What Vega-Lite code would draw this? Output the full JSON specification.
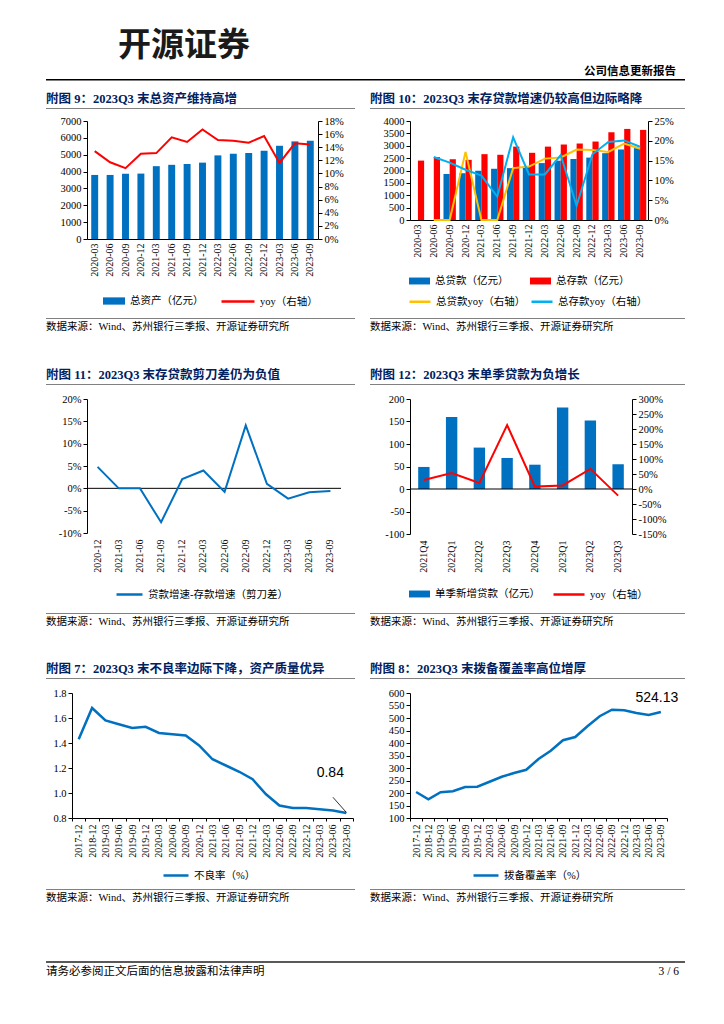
{
"$schema": "https://vega.github.io/schema/vega-lite/v6.json",
"padding": {"left": 46, "top": 0, "right": 10, "bottom": 10},
"background": "white",
"columns": 5,
"align": "each",
"bounds": "flush",
"spacing": 0,
"resolve": {"scale": {"x": "independent", "y": "independent", "fill": "independent", "stroke": "independent", "xOffset": "independent"}, "legend": {"fill": "independent", "stroke": "independent"}, "axis": {"x": "independent", "y": "independent"}},
"config": {
  "view": {"stroke": null},
  "font": "Liberation Serif, Noto Sans CJK SC",
  "axis": {"labelFont": "Liberation Serif, Noto Sans CJK SC", "labelFontSize": 10.5, "labelColor": "#000", "domainColor": "#000", "tickColor": "#000", "grid": false, "tickSize": 4, "labelPadding": 2, "domainWidth": 1, "labelOverlap": false},
  "legend": {"labelFont": "Liberation Serif, Noto Sans CJK SC", "labelFontSize": 10.5, "labelColor": "#000", "padding": 0, "labelOffset": 4, "orient": "none"},
  "title": {"font": "Liberation Serif, Noto Sans CJK SC", "fontSize": 12.5, "fontWeight": "bold", "color": "#002060", "anchor": "start", "offset": 3}
},
"datasets": {
  "assets": [
    {"date": "2020-03", "assets": 3800, "yoy": 0.134},
    {"date": "2020-06", "assets": 3800, "yoy": 0.117},
    {"date": "2020-09", "assets": 3870, "yoy": 0.108},
    {"date": "2020-12", "assets": 3880, "yoy": 0.130},
    {"date": "2021-03", "assets": 4320, "yoy": 0.131},
    {"date": "2021-06", "assets": 4400, "yoy": 0.155},
    {"date": "2021-09", "assets": 4450, "yoy": 0.148},
    {"date": "2021-12", "assets": 4530, "yoy": 0.167},
    {"date": "2022-03", "assets": 4960, "yoy": 0.151},
    {"date": "2022-06", "assets": 5050, "yoy": 0.150},
    {"date": "2022-09", "assets": 5100, "yoy": 0.147},
    {"date": "2022-12", "assets": 5230, "yoy": 0.157},
    {"date": "2023-03", "assets": 5530, "yoy": 0.116},
    {"date": "2023-06", "assets": 5790, "yoy": 0.146},
    {"date": "2023-09", "assets": 5830, "yoy": 0.144}
  ],
  "c2bars": [
    {"date": "2020-03", "series": "总存款（亿元）", "value": 2400},
    {"date": "2020-06", "series": "总存款（亿元）", "value": 2540},
    {"date": "2020-09", "series": "总贷款（亿元）", "value": 1860},
    {"date": "2020-09", "series": "总存款（亿元）", "value": 2455},
    {"date": "2020-12", "series": "总贷款（亿元）", "value": 1890},
    {"date": "2020-12", "series": "总存款（亿元）", "value": 2430},
    {"date": "2021-03", "series": "总贷款（亿元）", "value": 1990},
    {"date": "2021-03", "series": "总存款（亿元）", "value": 2660},
    {"date": "2021-06", "series": "总贷款（亿元）", "value": 2070},
    {"date": "2021-06", "series": "总存款（亿元）", "value": 2635},
    {"date": "2021-09", "series": "总贷款（亿元）", "value": 2095},
    {"date": "2021-09", "series": "总存款（亿元）", "value": 2965},
    {"date": "2021-12", "series": "总贷款（亿元）", "value": 2140},
    {"date": "2021-12", "series": "总存款（亿元）", "value": 2715},
    {"date": "2022-03", "series": "总贷款（亿元）", "value": 2300},
    {"date": "2022-03", "series": "总存款（亿元）", "value": 2965},
    {"date": "2022-06", "series": "总贷款（亿元）", "value": 2395},
    {"date": "2022-06", "series": "总存款（亿元）", "value": 3050},
    {"date": "2022-09", "series": "总贷款（亿元）", "value": 2465},
    {"date": "2022-09", "series": "总存款（亿元）", "value": 3090},
    {"date": "2022-12", "series": "总贷款（亿元）", "value": 2520},
    {"date": "2022-12", "series": "总存款（亿元）", "value": 3170},
    {"date": "2023-03", "series": "总贷款（亿元）", "value": 2700},
    {"date": "2023-03", "series": "总存款（亿元）", "value": 3545},
    {"date": "2023-06", "series": "总贷款（亿元）", "value": 2850},
    {"date": "2023-06", "series": "总存款（亿元）", "value": 3680},
    {"date": "2023-09", "series": "总贷款（亿元）", "value": 2905},
    {"date": "2023-09", "series": "总存款（亿元）", "value": 3640}
  ],
  "c2lines": [
    {"date": "2020-06", "series": "总贷款yoy（右轴）", "value": 0},
    {"date": "2020-09", "series": "总贷款yoy（右轴）", "value": 0},
    {"date": "2020-12", "series": "总贷款yoy（右轴）", "value": 0.172},
    {"date": "2021-03", "series": "总贷款yoy（右轴）", "value": 0},
    {"date": "2021-06", "series": "总贷款yoy（右轴）", "value": 0},
    {"date": "2021-09", "series": "总贷款yoy（右轴）", "value": 0.131},
    {"date": "2021-12", "series": "总贷款yoy（右轴）", "value": 0.135},
    {"date": "2022-03", "series": "总贷款yoy（右轴）", "value": 0.155},
    {"date": "2022-06", "series": "总贷款yoy（右轴）", "value": 0.158},
    {"date": "2022-09", "series": "总贷款yoy（右轴）", "value": 0.178},
    {"date": "2022-12", "series": "总贷款yoy（右轴）", "value": 0.177},
    {"date": "2023-03", "series": "总贷款yoy（右轴）", "value": 0.172},
    {"date": "2023-06", "series": "总贷款yoy（右轴）", "value": 0.193},
    {"date": "2023-09", "series": "总贷款yoy（右轴）", "value": 0.180},
    {"date": "2020-06", "series": "总存款yoy（右轴）", "value": 0.159},
    {"date": "2020-09", "series": "总存款yoy（右轴）", "value": 0.145},
    {"date": "2020-12", "series": "总存款yoy（右轴）", "value": 0.127},
    {"date": "2021-03", "series": "总存款yoy（右轴）", "value": 0.112},
    {"date": "2021-06", "series": "总存款yoy（右轴）", "value": 0.059},
    {"date": "2021-09", "series": "总存款yoy（右轴）", "value": 0.209},
    {"date": "2021-12", "series": "总存款yoy（右轴）", "value": 0.115},
    {"date": "2022-03", "series": "总存款yoy（右轴）", "value": 0.115},
    {"date": "2022-06", "series": "总存款yoy（右轴）", "value": 0.164},
    {"date": "2022-09", "series": "总存款yoy（右轴）", "value": 0.036},
    {"date": "2022-12", "series": "总存款yoy（右轴）", "value": 0.166},
    {"date": "2023-03", "series": "总存款yoy（右轴）", "value": 0.197},
    {"date": "2023-06", "series": "总存款yoy（右轴）", "value": 0.201},
    {"date": "2023-09", "series": "总存款yoy（右轴）", "value": 0.185}
  ],
  "scissors": [
    {"date": "2020-12", "v": 0.048},
    {"date": "2021-03", "v": 0.0},
    {"date": "2021-06", "v": 0.0},
    {"date": "2021-09", "v": -0.076},
    {"date": "2021-12", "v": 0.021},
    {"date": "2022-03", "v": 0.040},
    {"date": "2022-06", "v": -0.008},
    {"date": "2022-09", "v": 0.141},
    {"date": "2022-12", "v": 0.010},
    {"date": "2023-03", "v": -0.023},
    {"date": "2023-06", "v": -0.009},
    {"date": "2023-09", "v": -0.006}
  ],
  "newloans": [
    {"q": "2021Q4", "amt": 49, "yoy": 0.30},
    {"q": "2022Q1", "amt": 160, "yoy": 0.53},
    {"q": "2022Q2", "amt": 92, "yoy": 0.20},
    {"q": "2022Q3", "amt": 69, "yoy": 2.13},
    {"q": "2022Q4", "amt": 54, "yoy": 0.08},
    {"q": "2023Q1", "amt": 181, "yoy": 0.12},
    {"q": "2023Q2", "amt": 152, "yoy": 0.67},
    {"q": "2023Q3", "amt": 55, "yoy": -0.22}
  ],
  "quality": [
    {"date": "2017-12", "npl": 1.43, "cov": 204},
    {"date": "2018-12", "npl": 1.68, "cov": 175},
    {"date": "2019-03", "npl": 1.58, "cov": 203},
    {"date": "2019-06", "npl": 1.55, "cov": 207},
    {"date": "2019-09", "npl": 1.52, "cov": 224},
    {"date": "2019-12", "npl": 1.53, "cov": 225},
    {"date": "2020-03", "npl": 1.48, "cov": 245},
    {"date": "2020-06", "npl": 1.47, "cov": 265},
    {"date": "2020-09", "npl": 1.46, "cov": 280},
    {"date": "2020-12", "npl": 1.38, "cov": 293},
    {"date": "2021-03", "npl": 1.27, "cov": 336},
    {"date": "2021-06", "npl": 1.22, "cov": 369},
    {"date": "2021-09", "npl": 1.17, "cov": 411},
    {"date": "2021-12", "npl": 1.11, "cov": 424},
    {"date": "2022-03", "npl": 0.99, "cov": 467},
    {"date": "2022-06", "npl": 0.90, "cov": 507},
    {"date": "2022-09", "npl": 0.88, "cov": 533},
    {"date": "2022-12", "npl": 0.88, "cov": 531},
    {"date": "2023-03", "npl": 0.87, "cov": 520},
    {"date": "2023-06", "npl": 0.86, "cov": 512},
    {"date": "2023-09", "npl": 0.84, "cov": 524.13}
  ],
  "lastpoint": [
    {"date": "2023-09", "npl": 0.84, "cov": 524.13, "nplLabel": "0.84", "covLabel": "524.13"}
  ]
},
"concat": [
  {"width": 1, "height": 79, "data": {"values": []}, "mark": "point"},
  {"width": 1, "height": 1, "data": {"values": []}, "mark": "point"},
  {"width": 1, "height": 1, "data": {"values": []}, "mark": "point"},
  {"width": 1, "height": 1, "data": {"values": []}, "mark": "point"},
  {"width": 1, "height": 1, "data": {"values": []}, "mark": "point"},

  {"width": 41, "height": 1.5, "view": {"fill": "#000", "stroke": null}, "data": {"values": []}, "mark": "point",
   "title": {"text": "开源证券", "anchor": "start", "dx": 72, "font": "Noto Sans CJK SC", "fontSize": 33, "fontWeight": "bold", "color": "#1a1a1a", "offset": 16}},
  {"width": 268, "height": 1.5, "view": {"fill": "#000", "stroke": null}, "data": {"values": []}, "mark": "point"},
  {"width": 15, "height": 1.5, "view": {"fill": "#000", "stroke": null}, "data": {"values": []}, "mark": "point"},
  {"width": 40, "height": 1.5, "view": {"fill": "#000", "stroke": null}, "data": {"values": []}, "mark": "point"},
  {"width": 275, "height": 1.5, "view": {"fill": "#000", "stroke": null}, "data": {"values": []}, "mark": "point",
   "title": {"text": "公司信息更新报告", "anchor": "end", "dx": -9, "fontSize": 11.5, "fontWeight": "bold", "color": "#000", "offset": 2}},

  {"width": 1, "height": 27, "data": {"values": []}, "mark": "point"},
  {"width": 1, "height": 1, "data": {"values": []}, "mark": "point"},
  {"width": 1, "height": 1, "data": {"values": []}, "mark": "point"},
  {"width": 1, "height": 1, "data": {"values": []}, "mark": "point"},
  {"width": 1, "height": 1, "data": {"values": []}, "mark": "point"},

  {"width": 41, "height": 1, "view": {"fill": "#808080", "stroke": null}, "data": {"values": []}, "mark": "point", "title": {"text": "附图 9：2023Q3 末总资产维持高增"}},
  {"width": 268, "height": 1, "view": {"fill": "#808080", "stroke": null}, "data": {"values": []}, "mark": "point"},
  {"width": 15, "height": 1, "data": {"values": []}, "mark": "point"},
  {"width": 40, "height": 1, "view": {"fill": "#808080", "stroke": null}, "data": {"values": []}, "mark": "point", "title": {"text": "附图 10：2023Q3 末存贷款增速仍较高但边际略降"}},
  {"width": 275, "height": 1, "view": {"fill": "#808080", "stroke": null}, "data": {"values": []}, "mark": "point"},

  {"width": 1, "height": 12, "data": {"values": []}, "mark": "point"},
  {"width": 1, "height": 1, "data": {"values": []}, "mark": "point"},
  {"width": 1, "height": 1, "data": {"values": []}, "mark": "point"},
  {"width": 1, "height": 1, "data": {"values": []}, "mark": "point"},
  {"width": 1, "height": 1, "data": {"values": []}, "mark": "point"},

  {"width": 41, "height": 1, "data": {"values": []}, "mark": "point"},
  {"width": 231, "height": 118,
   "data": {"name": "assets"},
   "encoding": {"x": {"field": "date", "type": "nominal", "title": null, "scale": {"paddingInner": 0.55, "paddingOuter": 0.275}, "axis": {"labelAngle": 270, "ticks": false, "labelPadding": 4, "labelFontSize": 10}}},
   "layer": [
     {"mark": {"type": "bar"},
      "encoding": {
        "y": {"field": "assets", "type": "quantitative", "title": null, "scale": {"domain": [0, 7000]}, "axis": {"values": [0, 1000, 2000, 3000, 4000, 5000, 6000, 7000], "format": "d"}},
        "fill": {"datum": "总资产（亿元）", "type": "nominal", "scale": {"range": ["#0070C0"]}, "legend": {"title": null, "legendX": 15, "legendY": 168, "symbolType": "M-1,-0.33H1V0.33H-1Z", "symbolSize": 484}}
      }},
     {"mark": {"type": "line", "strokeWidth": 2},
      "encoding": {
        "y": {"field": "yoy", "type": "quantitative", "title": null, "scale": {"domain": [0, 0.18]}, "axis": {"orient": "right", "format": ".0%", "values": [0, 0.02, 0.04, 0.06, 0.08, 0.1, 0.12, 0.14, 0.16, 0.18]}},
        "stroke": {"datum": "yoy（右轴）", "type": "nominal", "scale": {"range": ["#FF0000"]}, "legend": {"title": null, "legendX": 133, "legendY": 162.5, "symbolType": "stroke", "symbolSize": 1089, "symbolStrokeWidth": 2.5}}
      }}
   ],
   "resolve": {"scale": {"y": "independent"}}},
  {"width": 15, "height": 1, "data": {"values": []}, "mark": "point"},
  {"width": 40, "height": 1, "data": {"values": []}, "mark": "point"},
  {"width": 238, "height": 99,
   "encoding": {"x": {"field": "date", "type": "nominal", "title": null, "scale": {"paddingInner": 0.22, "paddingOuter": 0.11}, "axis": {"labelAngle": 270, "ticks": false, "labelPadding": 4, "labelFontSize": 10}}},
   "layer": [
     {"data": {"name": "c2bars"}, "mark": {"type": "bar"},
      "encoding": {
        "xOffset": {"field": "series", "type": "nominal", "scale": {"domain": ["总贷款（亿元）", "总存款（亿元）"], "paddingInner": 0}},
        "y": {"field": "value", "type": "quantitative", "title": null, "scale": {"domain": [0, 4000]}, "axis": {"values": [0, 500, 1000, 1500, 2000, 2500, 3000, 3500, 4000], "format": "d"}},
        "fill": {"field": "series", "type": "nominal", "scale": {"domain": ["总贷款（亿元）", "总存款（亿元）"], "range": ["#0070C0", "#FF0000"]}, "legend": {"title": null, "legendX": -2, "legendY": 148.5, "direction": "horizontal", "columns": 2, "columnPadding": 20, "symbolType": "M-1,-0.33H1V0.33H-1Z", "symbolSize": 441}}
      }},
     {"data": {"name": "c2lines"}, "mark": {"type": "line", "strokeWidth": 2},
      "encoding": {
        "y": {"field": "value", "type": "quantitative", "title": null, "scale": {"domain": [0, 0.25]}, "axis": {"orient": "right", "format": ".0%", "values": [0, 0.05, 0.1, 0.15, 0.2, 0.25]}},
        "stroke": {"field": "series", "type": "nominal", "scale": {"domain": ["总贷款yoy（右轴）", "总存款yoy（右轴）"], "range": ["#FFC000", "#00B0F0"]}, "legend": {"title": null, "legendX": -2, "legendY": 168.5, "direction": "horizontal", "columns": 2, "columnPadding": 0, "symbolType": "stroke", "symbolSize": 441, "symbolStrokeWidth": 2.5}}
      }}
   ],
   "resolve": {"scale": {"y": "independent"}}},

  {"width": 1, "height": 79, "data": {"values": []}, "mark": "point"},
  {"width": 1, "height": 1, "data": {"values": []}, "mark": "point"},
  {"width": 1, "height": 1, "data": {"values": []}, "mark": "point"},
  {"width": 1, "height": 1, "data": {"values": []}, "mark": "point"},
  {"width": 1, "height": 1, "data": {"values": []}, "mark": "point"},

  {"width": 41, "height": 1, "view": {"fill": "#808080", "stroke": null}, "data": {"values": []}, "mark": "point", "title": {"text": "数据来源：Wind、苏州银行三季报、开源证券研究所", "orient": "bottom", "anchor": "start", "fontSize": 10.5, "fontWeight": "normal", "color": "#000", "offset": 3}},
  {"width": 268, "height": 1, "view": {"fill": "#808080", "stroke": null}, "data": {"values": []}, "mark": "point"},
  {"width": 15, "height": 1, "data": {"values": []}, "mark": "point"},
  {"width": 40, "height": 1, "view": {"fill": "#808080", "stroke": null}, "data": {"values": []}, "mark": "point", "title": {"text": "数据来源：Wind、苏州银行三季报、开源证券研究所", "orient": "bottom", "anchor": "start", "fontSize": 10.5, "fontWeight": "normal", "color": "#000", "offset": 3}},
  {"width": 275, "height": 1, "view": {"fill": "#808080", "stroke": null}, "data": {"values": []}, "mark": "point"},

  {"width": 1, "height": 65, "data": {"values": []}, "mark": "point"},
  {"width": 1, "height": 1, "data": {"values": []}, "mark": "point"},
  {"width": 1, "height": 1, "data": {"values": []}, "mark": "point"},
  {"width": 1, "height": 1, "data": {"values": []}, "mark": "point"},
  {"width": 1, "height": 1, "data": {"values": []}, "mark": "point"},

  {"width": 41, "height": 1, "view": {"fill": "#808080", "stroke": null}, "data": {"values": []}, "mark": "point", "title": {"text": "附图 11：2023Q3 末存贷款剪刀差仍为负值"}},
  {"width": 268, "height": 1, "view": {"fill": "#808080", "stroke": null}, "data": {"values": []}, "mark": "point"},
  {"width": 15, "height": 1, "data": {"values": []}, "mark": "point"},
  {"width": 40, "height": 1, "view": {"fill": "#808080", "stroke": null}, "data": {"values": []}, "mark": "point", "title": {"text": "附图 12：2023Q3 末单季贷款为负增长"}},
  {"width": 275, "height": 1, "view": {"fill": "#808080", "stroke": null}, "data": {"values": []}, "mark": "point"},

  {"width": 1, "height": 14, "data": {"values": []}, "mark": "point"},
  {"width": 1, "height": 1, "data": {"values": []}, "mark": "point"},
  {"width": 1, "height": 1, "data": {"values": []}, "mark": "point"},
  {"width": 1, "height": 1, "data": {"values": []}, "mark": "point"},
  {"width": 1, "height": 1, "data": {"values": []}, "mark": "point"},

  {"width": 41, "height": 1, "data": {"values": []}, "mark": "point"},
  {"width": 254, "height": 134,
   "layer": [
     {"data": {"values": [{}]}, "mark": {"type": "rule", "color": "#000", "strokeWidth": 1},
      "encoding": {"y": {"datum": 0, "type": "quantitative", "title": null, "scale": {"domain": [-0.1, 0.2]}, "axis": {"format": ".0%", "values": [-0.1, -0.05, 0, 0.05, 0.1, 0.15, 0.2], "labelExpr": "replace(datum.label, '−', '-')"}}}},
     {"data": {"name": "scissors"}, "mark": {"type": "line", "strokeWidth": 2},
      "encoding": {
        "x": {"field": "date", "type": "nominal", "title": null, "scale": {"type": "band", "paddingInner": 0, "paddingOuter": 0}, "axis": {"labelAngle": 270, "ticks": false, "domain": false, "labelPadding": 6, "labelFontSize": 10}},
        "y": {"field": "v", "type": "quantitative", "title": null, "scale": {"domain": [-0.1, 0.2]}, "axis": {"format": ".0%", "values": [-0.1, -0.05, 0, 0.05, 0.1, 0.15, 0.2], "labelExpr": "replace(datum.label, '−', '-')"}},
        "stroke": {"datum": "贷款增速-存款增速（剪刀差）", "type": "nominal", "scale": {"range": ["#0070C0"]}, "legend": {"title": null, "legendX": 28, "legendY": 181, "symbolType": "stroke", "symbolSize": 676, "symbolStrokeWidth": 2.5}}
      }}
   ]},
  {"width": 15, "height": 1, "data": {"values": []}, "mark": "point"},
  {"width": 40, "height": 1, "data": {"values": []}, "mark": "point"},
  {"width": 222, "height": 135,
   "data": {"name": "newloans"},
   "layer": [
     {"mark": {"type": "bar"},
      "encoding": {
        "x": {"field": "q", "type": "nominal", "title": null, "scale": {"paddingInner": 0.59, "paddingOuter": 0.295}, "axis": {"labelAngle": 270, "ticks": false, "domain": false, "labelPadding": 6, "labelFontSize": 10}},
        "y": {"field": "amt", "type": "quantitative", "title": null, "scale": {"domain": [-100, 200]}, "axis": {"values": [-100, -50, 0, 50, 100, 150, 200], "labelExpr": "replace(datum.label, '−', '-')"}},
        "fill": {"datum": "单季新增贷款（亿元）", "type": "nominal", "scale": {"range": ["#0070C0"]}, "legend": {"title": null, "legendX": -2, "legendY": 183.5, "symbolType": "M-1,-0.33H1V0.33H-1Z", "symbolSize": 441}}
      }},
     {"data": {"values": [{}]}, "mark": {"type": "rule", "color": "#000", "strokeWidth": 1},
      "encoding": {"y": {"datum": 0, "type": "quantitative", "scale": {"domain": [-100, 200]}, "axis": null}}},
     {"mark": {"type": "line", "strokeWidth": 2},
      "encoding": {
        "x": {"field": "q", "type": "nominal"},
        "y": {"field": "yoy", "type": "quantitative", "title": null, "scale": {"domain": [-1.5, 3]}, "axis": {"orient": "right", "format": ".0%", "values": [-1.5, -1, -0.5, 0, 0.5, 1, 1.5, 2, 2.5, 3], "labelExpr": "replace(datum.label, '−', '-')"}},
        "stroke": {"datum": "yoy（右轴）", "type": "nominal", "scale": {"range": ["#FF0000"]}, "legend": {"title": null, "legendX": 142, "legendY": 178.5, "symbolType": "stroke", "symbolSize": 961, "symbolStrokeWidth": 2.5}}
      }}
   ],
   "resolve": {"scale": {"y": "independent"}}},

  {"width": 1, "height": 79, "data": {"values": []}, "mark": "point"},
  {"width": 1, "height": 1, "data": {"values": []}, "mark": "point"},
  {"width": 1, "height": 1, "data": {"values": []}, "mark": "point"},
  {"width": 1, "height": 1, "data": {"values": []}, "mark": "point"},
  {"width": 1, "height": 1, "data": {"values": []}, "mark": "point"},

  {"width": 41, "height": 1, "view": {"fill": "#808080", "stroke": null}, "data": {"values": []}, "mark": "point", "title": {"text": "数据来源：Wind、苏州银行三季报、开源证券研究所", "orient": "bottom", "anchor": "start", "fontSize": 10.5, "fontWeight": "normal", "color": "#000", "offset": 3}},
  {"width": 268, "height": 1, "view": {"fill": "#808080", "stroke": null}, "data": {"values": []}, "mark": "point"},
  {"width": 15, "height": 1, "data": {"values": []}, "mark": "point"},
  {"width": 40, "height": 1, "view": {"fill": "#808080", "stroke": null}, "data": {"values": []}, "mark": "point", "title": {"text": "数据来源：Wind、苏州银行三季报、开源证券研究所", "orient": "bottom", "anchor": "start", "fontSize": 10.5, "fontWeight": "normal", "color": "#000", "offset": 3}},
  {"width": 275, "height": 1, "view": {"fill": "#808080", "stroke": null}, "data": {"values": []}, "mark": "point"},

  {"width": 1, "height": 64, "data": {"values": []}, "mark": "point"},
  {"width": 1, "height": 1, "data": {"values": []}, "mark": "point"},
  {"width": 1, "height": 1, "data": {"values": []}, "mark": "point"},
  {"width": 1, "height": 1, "data": {"values": []}, "mark": "point"},
  {"width": 1, "height": 1, "data": {"values": []}, "mark": "point"},

  {"width": 41, "height": 1, "view": {"fill": "#808080", "stroke": null}, "data": {"values": []}, "mark": "point", "title": {"text": "附图 7：2023Q3 末不良率边际下降，资产质量优异"}},
  {"width": 268, "height": 1, "view": {"fill": "#808080", "stroke": null}, "data": {"values": []}, "mark": "point"},
  {"width": 15, "height": 1, "data": {"values": []}, "mark": "point"},
  {"width": 40, "height": 1, "view": {"fill": "#808080", "stroke": null}, "data": {"values": []}, "mark": "point", "title": {"text": "附图 8：2023Q3 末拨备覆盖率高位增厚"}},
  {"width": 275, "height": 1, "view": {"fill": "#808080", "stroke": null}, "data": {"values": []}, "mark": "point"},

  {"width": 1, "height": 14, "data": {"values": []}, "mark": "point"},
  {"width": 1, "height": 1, "data": {"values": []}, "mark": "point"},
  {"width": 1, "height": 1, "data": {"values": []}, "mark": "point"},
  {"width": 1, "height": 1, "data": {"values": []}, "mark": "point"},
  {"width": 1, "height": 1, "data": {"values": []}, "mark": "point"},

  {"width": 41, "height": 1, "data": {"values": []}, "mark": "point"},
  {"width": 266, "height": 125,
   "encoding": {"x": {"field": "date", "type": "nominal", "title": null, "scale": {"type": "band", "paddingInner": 0, "paddingOuter": 0, "range": [-15, 266]}, "axis": {"labelAngle": 270, "tickBand": "extent", "tickSize": 3, "labelPadding": 3, "labelFontSize": 10}}},
   "layer": [
     {"data": {"name": "quality"}, "mark": {"type": "line", "strokeWidth": 2.5},
      "encoding": {
        "y": {"field": "npl", "type": "quantitative", "title": null, "scale": {"domain": [0.8, 1.8]}, "axis": {"values": [0.8, 1.0, 1.2, 1.4, 1.6, 1.8], "format": ".1f", "offset": 15}},
        "stroke": {"datum": "不良率（%）", "type": "nominal", "scale": {"range": ["#0070C0"]}, "legend": {"title": null, "legendX": 75, "legendY": 168.5, "symbolType": "stroke", "symbolSize": 625, "symbolStrokeWidth": 2.5}}
      }},
     {"data": {"values": [{}]}, "mark": {"type": "rule", "color": "#000", "strokeWidth": 0.8},
      "encoding": {"x": {"datum": "2023-06"}, "y": {"datum": 0.966, "type": "quantitative", "title": null, "scale": {"domain": [0.8, 1.8]}, "axis": {"values": [0.8, 1.0, 1.2, 1.4, 1.6, 1.8], "format": ".1f", "offset": 15}}, "x2": {"datum": "2023-09"}, "y2": {"datum": 0.845}}},
     {"data": {"name": "lastpoint"}, "mark": {"type": "text", "font": "Liberation Sans", "fontSize": 14, "dx": -16, "dy": -40, "color": "#000"},
      "encoding": {"y": {"field": "npl", "type": "quantitative", "title": null, "scale": {"domain": [0.8, 1.8]}, "axis": {"values": [0.8, 1.0, 1.2, 1.4, 1.6, 1.8], "format": ".1f", "offset": 15}}, "text": {"field": "nplLabel"}}}
   ]},
  {"width": 15, "height": 1, "data": {"values": []}, "mark": "point"},
  {"width": 40, "height": 1, "data": {"values": []}, "mark": "point"},
  {"width": 257, "height": 125,
   "encoding": {"x": {"field": "date", "type": "nominal", "title": null, "scale": {"type": "band", "paddingInner": 0, "paddingOuter": 0}, "axis": {"labelAngle": 270, "tickBand": "extent", "tickSize": 3, "labelPadding": 3, "labelFontSize": 10}}},
   "layer": [
     {"data": {"name": "quality"}, "mark": {"type": "line", "strokeWidth": 2.5},
      "encoding": {
        "y": {"field": "cov", "type": "quantitative", "title": null, "scale": {"domain": [100, 600]}, "axis": {"values": [100, 150, 200, 250, 300, 350, 400, 450, 500, 550, 600]}},
        "stroke": {"datum": "拨备覆盖率（%）", "type": "nominal", "scale": {"range": ["#0070C0"]}, "legend": {"title": null, "legendX": 62, "legendY": 168.5, "symbolType": "stroke", "symbolSize": 625, "symbolStrokeWidth": 2.5}}
      }},
     {"data": {"name": "lastpoint"}, "mark": {"type": "text", "font": "Liberation Sans", "fontSize": 14, "dx": -4, "dy": -14, "color": "#000"},
      "encoding": {"y": {"field": "cov", "type": "quantitative", "title": null, "scale": {"domain": [100, 600]}, "axis": {"values": [100, 150, 200, 250, 300, 350, 400, 450, 500, 550, 600]}}, "text": {"field": "covLabel"}}}
   ]},

  {"width": 1, "height": 71, "data": {"values": []}, "mark": "point"},
  {"width": 1, "height": 1, "data": {"values": []}, "mark": "point"},
  {"width": 1, "height": 1, "data": {"values": []}, "mark": "point"},
  {"width": 1, "height": 1, "data": {"values": []}, "mark": "point"},
  {"width": 1, "height": 1, "data": {"values": []}, "mark": "point"},

  {"width": 41, "height": 1, "view": {"fill": "#808080", "stroke": null}, "data": {"values": []}, "mark": "point", "title": {"text": "数据来源：Wind、苏州银行三季报、开源证券研究所", "orient": "bottom", "anchor": "start", "fontSize": 10.5, "fontWeight": "normal", "color": "#000", "offset": 3}},
  {"width": 268, "height": 1, "view": {"fill": "#808080", "stroke": null}, "data": {"values": []}, "mark": "point"},
  {"width": 15, "height": 1, "data": {"values": []}, "mark": "point"},
  {"width": 40, "height": 1, "view": {"fill": "#808080", "stroke": null}, "data": {"values": []}, "mark": "point", "title": {"text": "数据来源：Wind、苏州银行三季报、开源证券研究所", "orient": "bottom", "anchor": "start", "fontSize": 10.5, "fontWeight": "normal", "color": "#000", "offset": 3}},
  {"width": 275, "height": 1, "view": {"fill": "#808080", "stroke": null}, "data": {"values": []}, "mark": "point"},

  {"width": 1, "height": 71, "data": {"values": []}, "mark": "point"},
  {"width": 1, "height": 1, "data": {"values": []}, "mark": "point"},
  {"width": 1, "height": 1, "data": {"values": []}, "mark": "point"},
  {"width": 1, "height": 1, "data": {"values": []}, "mark": "point"},
  {"width": 1, "height": 1, "data": {"values": []}, "mark": "point"},

  {"width": 41, "height": 2, "view": {"fill": "#595959", "stroke": null}, "data": {"values": []}, "mark": "point", "title": {"text": "请务必参阅正文后面的信息披露和法律声明", "orient": "bottom", "anchor": "start", "fontSize": 11.5, "fontWeight": "normal", "color": "#000", "offset": 3}},
  {"width": 268, "height": 2, "view": {"fill": "#595959", "stroke": null}, "data": {"values": []}, "mark": "point"},
  {"width": 15, "height": 2, "view": {"fill": "#595959", "stroke": null}, "data": {"values": []}, "mark": "point"},
  {"width": 40, "height": 2, "view": {"fill": "#595959", "stroke": null}, "data": {"values": []}, "mark": "point"},
  {"width": 275, "height": 2, "view": {"fill": "#595959", "stroke": null}, "data": {"values": []}, "mark": "point", "title": {"text": "3 / 6", "orient": "bottom", "anchor": "end", "dx": -6, "fontSize": 11.5, "fontWeight": "normal", "color": "#000", "offset": 3}}
]
}
